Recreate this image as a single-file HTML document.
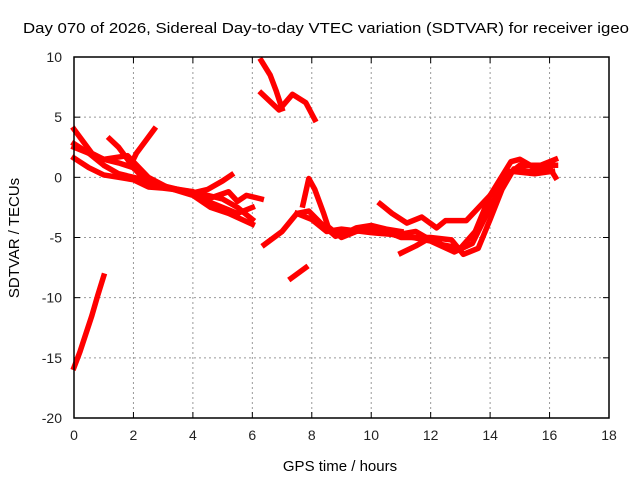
<!DOCTYPE html>
<html><head><meta charset="utf-8"><style>
body{margin:0;background:#fff;}
svg{display:block;font-family:"Liberation Sans",sans-serif;}
</style></head><body>
<svg id="chart" width="640" height="480">
<text x="326" y="33" font-size="15" text-anchor="middle" textLength="606" lengthAdjust="spacingAndGlyphs">Day 070 of 2026, Sidereal Day-to-day VTEC variation (SDTVAR) for receiver igeo</text>
<text x="340" y="471" font-size="15" text-anchor="middle">GPS time / hours</text>
<text transform="translate(19,238) rotate(-90)" font-size="15" text-anchor="middle">SDTVAR / TECUs</text>
<g id="grid"></g><g id="ticks"></g><g id="series"></g>
<rect x="74" y="57" width="535" height="361" fill="none" stroke="#000" stroke-width="1.5"/>
</svg>
<script>
const xTicks=[0,2,4,6,8,10,12,14,16,18];
const yTicks=[10,5,0,-5,-10,-15,-20];
const seriesNames=['s1','s2','s3','s4','s5','s6','s7','s8','s9','s10','s11','s12','s13','s14','s15','s16','s17'];
const s1=[[0,-15.8],[0.2,-14.5],[0.4,-13],[0.6,-11.5],[0.8,-9.8],[1.0,-8.2]];
const s2=[[0,4],[0.3,3],[0.6,2],[1,1.5],[1.5,1.2],[2,0.8],[2.5,-0.5],[3,-0.8],[3.5,-1],[4,-1.2],[4.5,-1.5],[5,-1.8],[5.5,-2.5],[6,-3.5]];
const s3=[[0,2.8],[0.5,2],[1,1],[1.5,0.3],[2,0],[2.5,-0.3],[3,-0.7],[3.5,-1],[4,-1.3],[4.5,-1],[5,-0.3],[5.3,0.2]];
const s4=[[0,1.6],[0.5,0.8],[1,0.2],[1.5,0],[2,-0.2],[2.5,-0.8],[3,-0.9],[4,-1.2],[4.5,-2],[5,-2.5],[5.5,-3],[6,-2.5]];
const s5=[[0,2.5],[1,1.5],[1.8,1.8],[2.5,0],[3.2,-0.9],[4,-1.5],[4.6,-2.5],[5.2,-3],[6,-3.9]];
const s6=[[1.2,3.2],[1.5,2.5],[1.8,1.5],[2,0.8]];
const s7=[[2.7,4],[2.4,3],[2.1,2],[1.9,1]];
const s8=[[6.3,-1.8],[5.8,-1.5],[5.5,-2],[5.2,-1.2],[4.5,-1.8]];
const s9=[[6.3,9.7],[6.6,8.5],[6.8,7.2],[7.0,5.7]];
const s10=[[6.3,7.0],[6.9,5.6],[7.35,6.9],[7.8,6.2],[8.1,4.8]];
const s11=[[6.4,-5.6],[7,-4.5],[7.5,-3],[7.9,-2.8],[8.3,-3.8],[8.8,-4.9],[9.5,-4.3],[10,-4.5],[10.5,-4.5],[11,-5],[12,-5],[12.5,-5.8],[13,-5.9],[13.5,-4.5],[14,-1.5],[14.5,0],[15,1],[16.2,1]];
const s12=[[7.7,-2.3],[7.9,-0.1],[8.1,-1],[8.4,-3],[8.6,-4.5],[9,-4.8],[9.5,-4.2],[10,-4],[10.5,-4.3],[11,-4.5]];
const s13=[[7.5,-3],[8,-3.5],[8.5,-4.5],[9,-4.3],[10,-4.6],[11,-4.8],[12,-5.3],[12.8,-6.2],[13.4,-5.5],[13.8,-3.5],[14.3,-1],[14.7,0.5],[15.5,0.3],[16.1,0.5]];
const s14=[[10.3,-2.2],[10.7,-3],[11.2,-3.8],[11.7,-3.3],[12.2,-4.2],[12.5,-3.6],[13.2,-3.6],[14,-1.5],[14.7,1.3],[15,1.5],[15.5,0.8],[16.2,1.5]];
const s15=[[11,-6.3],[11.5,-5.7],[12,-5],[12.7,-5.2],[13.1,-6.4],[13.6,-5.9],[14,-3.5],[14.4,-1],[14.8,0.7],[15.3,0.5],[16,0.8],[16.2,0]];
const s16=[[7.3,-8.4],[7.8,-7.5]];
const s17=[[8.5,-4],[9,-5],[9.5,-4.5],[10,-4.2],[10.8,-4.8],[11.5,-4.5],[12.2,-5.5],[12.8,-5.8]];
const allSeries=[s1,s2,s3,s4,s5,s6,s7,s8,s9,s10,s11,s12,s13,s14,s15,s16,s17];
const X0=74,X1=609,Y0=418,Y1=57,xmin=0,xmax=18,ymin=-20,ymax=10;
const xs=h=>X0+(h-xmin)/(xmax-xmin)*(X1-X0);
const ys=v=>Y0-(v-ymin)/(ymax-ymin)*(Y0-Y1);
const NS='http://www.w3.org/2000/svg';
function mk(t,a,p){const e=document.createElementNS(NS,t);for(const k in a)e.setAttribute(k,a[k]);p.appendChild(e);return e;}
const grid=document.getElementById('grid'),ticks=document.getElementById('ticks'),ser=document.getElementById('series');
xTicks.forEach(t=>{const x=xs(t);
 if(t>xmin&&t<xmax){const g=mk('line',{x1:x,x2:x,y1:Y1,y2:Y0,stroke:'#999','stroke-dasharray':'2,3'},grid);
 
 }
 mk('line',{x1:x,x2:x,y1:Y0,y2:Y0-6,stroke:'#000'},ticks);mk('line',{x1:x,x2:x,y1:Y1,y2:Y1+6,stroke:'#000'},ticks);
 const l=mk('text',{x:x,y:Y0+22,'font-size':14,'text-anchor':'middle',fill:'#222'},ticks);l.textContent=t;
 
 });
yTicks.forEach(t=>{const y=ys(t);
 if(t>ymin&&t<ymax){const g=mk('line',{x1:X0,x2:X1,y1:y,y2:y,stroke:'#999','stroke-dasharray':'2,3'},grid);
 
 }
 mk('line',{x1:X0,x2:X0+6,y1:y,y2:y,stroke:'#000'},ticks);mk('line',{x1:X1,x2:X1-6,y1:y,y2:y,stroke:'#000'},ticks);
 const l=mk('text',{x:X0-12,y:y+5,'font-size':14,'text-anchor':'end',fill:'#222'},ticks);l.textContent=t;
 
 });
allSeries.forEach((s,i)=>{
 const p=mk('polyline',{points:s.map(d=>xs(d[0])+','+ys(d[1])).join(' '),fill:'none',stroke:'#f00','stroke-width':5.5,'stroke-linejoin':'round','stroke-linecap':'square'},ser);
 
 });
</script>
</body></html>
